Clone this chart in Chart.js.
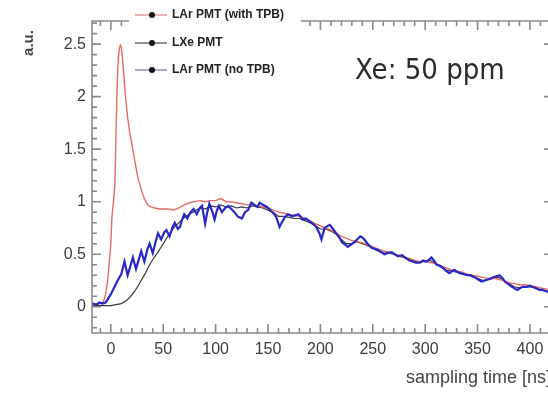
<!DOCTYPE html>
<html>
<head>
<meta charset="utf-8">
<script src="https://cdn.jsdelivr.net/npm/chart.js@4.4.1/dist/chart.umd.min.js"></script>
<style>
html,body{margin:0;padding:0;background:#fff;overflow:hidden;width:548px;height:395px;}
canvas{display:block;}
</style>
</head>
<body>
<canvas id="c" width="600" height="395"></canvas>
<script>
// ---- data ----
const seriesNames = ["LAr PMT (with TPB)", "LXe PMT", "LAr PMT (no TPB)"];
const xTickLabels = [0, 50, 100, 150, 200, 250, 300, 350, 400];
const yTickLabels = [0, 0.5, 1, 1.5, 2, 2.5];
const xTitle = "sampling time [ns]";
const yTitle = "a.u.";
const noteText = "Xe: 50 ppm";

const redT = [-20,-15,-10,-7,-5,-3,-2,0,1,3,4,5,6,7,8,9,10,11,12,14,16,18,20,23,26,28,30,32,35,38,42,46,50,55,60,65,70,75,80,85,90,95,100,105,110,115,120,125,130,135,140,145,150,155,160,165,170,175,180,185,190,195,200,205,210,215,220,225,230,235,240,245,250,255,260,265,270,275,280,285,290,295,300,305,310,315,320,325,330,335,340,345,350,355,360,365,370,375,380,385,390,395,400,405,410,415,420];
const redV = [0.02,0.02,0.03,0.05,0.12,0.25,0.37,0.6,0.85,1.05,1.2,1.7,2.1,2.35,2.45,2.49,2.47,2.38,2.25,2.0,1.8,1.66,1.55,1.38,1.22,1.15,1.08,1.03,0.97,0.95,0.94,0.93,0.93,0.93,0.92,0.94,0.97,0.99,1.0,1.01,1.0,1.01,1.01,1.03,1.0,1.0,0.99,0.98,0.97,0.97,0.96,0.95,0.94,0.92,0.9,0.89,0.88,0.87,0.86,0.84,0.82,0.79,0.77,0.75,0.73,0.7,0.67,0.65,0.63,0.62,0.61,0.59,0.57,0.55,0.53,0.52,0.5,0.49,0.47,0.46,0.44,0.43,0.43,0.42,0.41,0.39,0.37,0.35,0.34,0.33,0.31,0.3,0.29,0.28,0.27,0.27,0.26,0.25,0.23,0.22,0.21,0.21,0.2,0.19,0.18,0.17,0.16];

const lxeT = [-20,-10,0,5,10,15,19,23,26,30,33,36,40,45,50,55,60,65,70,75,80,85,90,95,100,105,110,115,120,125,130,135,140,145,150,155,160,165,170,175,180,185,190,195,200,205,210,215,220,225,230,235,240,245,250,255,260,265,270,275,280,285,290,295,300,305,310,315,320,325,330,335,340,345,350,355,360,365,370,375,380,385,390,395,400,405,410,415,420];
const lxeV = [0.01,0.01,0.01,0.02,0.03,0.06,0.1,0.15,0.2,0.27,0.32,0.38,0.45,0.52,0.6,0.68,0.75,0.8,0.85,0.88,0.91,0.94,0.93,0.96,0.95,0.97,0.95,0.96,0.94,0.95,0.94,0.96,0.95,0.94,0.92,0.9,0.86,0.86,0.85,0.84,0.84,0.82,0.8,0.77,0.74,0.74,0.72,0.69,0.64,0.6,0.6,0.62,0.6,0.58,0.56,0.53,0.51,0.51,0.5,0.48,0.47,0.45,0.43,0.43,0.43,0.44,0.41,0.38,0.35,0.34,0.33,0.32,0.3,0.29,0.27,0.25,0.26,0.27,0.28,0.25,0.22,0.19,0.18,0.19,0.19,0.18,0.16,0.15,0.14];

const blueT = [-20,-17,-14,-11,-8,-5,-3,0,4,7,10,13,16,19,21,24,27,29,32,35,37,40,43,45,48,51,53,56,59,61,64,66,68,70,73,76,79,82,85,87,90,92,94,97,99,101,103,106,109,112,115,118,121,125,128,131,134,137,140,142,145,149,152,156,158,161,163,166,169,173,176,179,181,183,186,190,193,196,199,201,204,207,209,212,215,218,221,224,226,229,233,236,238,240,242,245,249,252,255,258,261,264,268,271,274,278,282,285,288,291,295,298,301,304,306,309,311,314,317,320,323,326,328,331,333,337,340,343,345,349,352,354,357,360,363,365,368,371,374,376,380,383,386,388,391,393,397,400,402,405,409,412,415,418,421];
const blueV = [0.02,0.03,0.02,0.04,0.03,0.04,0.07,0.12,0.2,0.26,0.31,0.43,0.3,0.4,0.47,0.36,0.46,0.53,0.43,0.55,0.6,0.51,0.63,0.7,0.64,0.71,0.73,0.67,0.76,0.8,0.74,0.76,0.83,0.88,0.84,0.9,0.93,0.88,0.94,0.96,0.79,0.9,0.98,0.9,0.83,0.91,0.96,0.9,0.94,0.96,0.93,0.9,0.86,0.84,0.9,0.92,0.99,0.97,0.95,0.99,0.97,0.95,0.92,0.88,0.85,0.76,0.8,0.85,0.88,0.86,0.87,0.88,0.86,0.83,0.84,0.81,0.79,0.76,0.7,0.64,0.75,0.77,0.78,0.74,0.7,0.66,0.61,0.59,0.57,0.59,0.62,0.65,0.67,0.66,0.64,0.6,0.56,0.55,0.54,0.52,0.5,0.51,0.52,0.5,0.48,0.49,0.46,0.44,0.43,0.42,0.42,0.44,0.43,0.45,0.47,0.43,0.4,0.39,0.37,0.34,0.32,0.34,0.35,0.33,0.32,0.31,0.3,0.3,0.29,0.27,0.25,0.24,0.25,0.26,0.27,0.28,0.29,0.3,0.27,0.24,0.21,0.19,0.17,0.16,0.18,0.19,0.19,0.2,0.19,0.18,0.16,0.16,0.15,0.14,0.14];

// ---- build ----
const pts = (t, v) => t.map((x, i) => ({x: x, y: v[i]}));
const FRAME = '#8a8a8a';
const FONT = '"Liberation Sans", Arial, sans-serif';

const decor = {
  id: 'decor',
  afterDatasetsDraw(chart) {
    const ctx = chart.ctx;
    const a = chart.chartArea;
    const xs = chart.scales.x, ys = chart.scales.y;
    ctx.save();
    ctx.strokeStyle = FRAME;
    ctx.lineWidth = 1.6;
    ctx.beginPath();
    ctx.rect(a.left, a.top, a.right - a.left, a.bottom - a.top);
    ctx.stroke();
    ctx.beginPath();
    for (let v = -10; v <= 420; v += 10) {
      const p = xs.getPixelForValue(v);
      const len = (v % 50 === 0) ? 9 : 5;
      ctx.moveTo(p, a.bottom); ctx.lineTo(p, a.bottom - len);
      ctx.moveTo(p, a.top); ctx.lineTo(p, a.top + len);
    }
    for (let k = -2; k <= 27; k++) {
      const p = ys.getPixelForValue(k / 10);
      const len = (k % 5 === 0) ? 9 : 5;
      ctx.moveTo(a.left, p); ctx.lineTo(a.left + len, p);
      ctx.moveTo(a.right, p); ctx.lineTo(a.right - len, p);
    }
    ctx.stroke();

    // legend box (white, covers frame)
    ctx.fillStyle = '#fff';
    ctx.fillRect(129, 0, 172, 84);
    const entries = [
      {y: 15, c: '#e58a8a'},
      {y: 43, c: '#555555'},
      {y: 70, c: '#7a7aa8'}
    ];
    entries.forEach((e, i) => {
      ctx.strokeStyle = e.c;
      ctx.lineWidth = 1.3;
      ctx.beginPath(); ctx.moveTo(135, e.y); ctx.lineTo(167, e.y); ctx.stroke();
      ctx.fillStyle = '#111';
      ctx.beginPath(); ctx.arc(152, e.y, 3, 0, Math.PI * 2); ctx.fill();
      ctx.fillStyle = '#222';
      ctx.font = 'bold 12px ' + FONT;
      ctx.textAlign = 'left'; ctx.textBaseline = 'middle';
      ctx.fillText(seriesNames[i], 172, e.y);
    });

    // note
    ctx.fillStyle = '#2a2a2a';
    ctx.font = '29px "DejaVu Sans Condensed", "Liberation Sans", sans-serif';
    ctx.textAlign = 'left'; ctx.textBaseline = 'alphabetic';
    ctx.fillText(noteText, 355, 79);

    // axis titles
    ctx.fillStyle = '#444';
    ctx.font = '18px ' + FONT;
    ctx.textAlign = 'left'; ctx.textBaseline = 'alphabetic';
    ctx.fillText(xTitle, 406, 383);

    ctx.save();
    ctx.translate(33, 43);
    ctx.rotate(-Math.PI / 2);
    ctx.font = 'bold 15px ' + FONT;
    ctx.textAlign = 'center'; ctx.textBaseline = 'alphabetic';
    ctx.fillStyle = '#444';
    ctx.fillText(yTitle, 0, 0);
    ctx.restore();
    ctx.restore();
  }
};

new Chart(document.getElementById('c'), {
  type: 'line',
  data: {
    datasets: [
      {label: seriesNames[2], data: pts(blueT, blueV), borderColor: '#2828c8', borderWidth: 2.2, order: 0},
      {label: seriesNames[0], data: pts(redT, redV), borderColor: '#e86a64', borderWidth: 1.4, order: 1},
      {label: seriesNames[1], data: pts(lxeT, lxeV), borderColor: '#3a3a3a', borderWidth: 1.2, order: 2}
    ]
  },
  options: {
    responsive: false,
    animation: false,
    elements: {point: {radius: 0}, line: {tension: 0, fill: false}},
    layout: {padding: {left: 0, top: 21, right: 47, bottom: 0}},
    plugins: {legend: {display: false}, tooltip: {enabled: false}},
    scales: {
      x: {
        type: 'linear', min: -18, max: 422,
        grid: {display: false, drawTicks: false}, border: {display: false},
        afterBuildTicks: s => { s.ticks = xTickLabels.map(v => ({value: v})); },
        afterFit: s => { s.height = 62; },
        ticks: {padding: 7, color: '#3c3c3c', font: {size: 16, family: FONT}, maxRotation: 0, autoSkip: false}
      },
      y: {
        type: 'linear', min: -0.25, max: 2.72,
        grid: {display: false, drawTicks: false}, border: {display: false},
        afterBuildTicks: s => { s.ticks = yTickLabels.map(v => ({value: v})); },
        afterFit: s => { s.width = 92; },
        ticks: {padding: 6, color: '#3c3c3c', font: {size: 16, family: FONT}, autoSkip: false, callback: v => String(v)}
      }
    }
  },
  plugins: [decor]
});
</script>
</body>
</html>
